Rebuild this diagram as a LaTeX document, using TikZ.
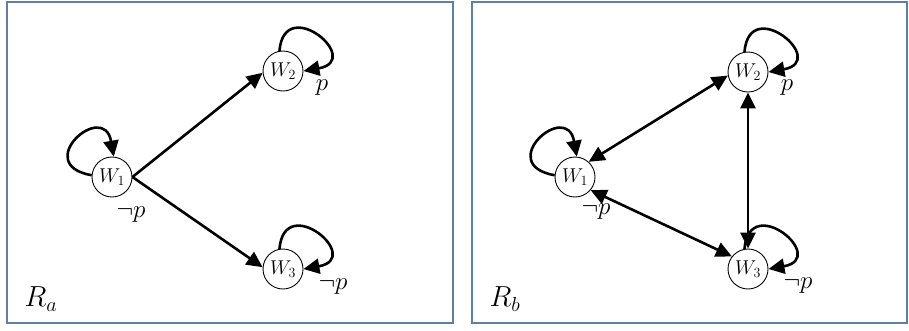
\RequirePackage{fix-cm}
\documentclass[tikz,border=0pt]{standalone}
\usetikzlibrary{arrows.meta}
\definecolor{frame}{RGB}{95,128,160}
\begin{document}
\begin{tikzpicture}[x=1pt,y=-1pt,
  world/.style={circle,draw,line width=0.9pt,minimum size=40pt,inner sep=0pt,font=\fontsize{20}{24}\selectfont},
  conn/.style={line width=2.6pt,-{Triangle[length=16pt,width=15pt]}},
  biconn/.style={line width=2.6pt,{Triangle[length=16pt,width=15pt]}-{Triangle[length=16pt,width=15pt]}},
  lbl/.style={inner sep=0pt,font=\fontsize{25}{28}\selectfont},
  panel/.style={draw=frame,line width=1.2pt}]
\useasboundingbox (0,0) rectangle (909,330);
% panels
\draw[panel] (7,2) rectangle (453,323);
\draw[panel] (472,2) rectangle (907,323);
% left panel
\node[world] (a1) at (112,177) {$W_1$};
\node[world] (a2) at (283,71) {$W_2$};
\node[world] (a3) at (283,269) {$W_3$};
\draw[conn] (a1.east) -- (a2.185);
\draw[conn] (a1.east) -- (a3.175);
\draw[conn] (a1.175) .. controls +(-170:62) and +(-100:58) .. (a1.85);
\draw[conn] (a2.100) .. controls +(-85:58) and +(-10:62) .. (a2.0);
\draw[conn] (a3.100) .. controls +(-85:58) and +(-10:62) .. (a3.0);
\node[lbl] (la1) at (131,215) {$\neg p$};
\node[lbl] (la2) at (322,88) {$p$};
\node[lbl] (la3) at (333,287) {$\neg p$};
\node[inner sep=0pt,font=\fontsize{29}{32}\selectfont] (ra) at (41,299) {$R_a$};
% right panel
\node[world] (b1) at (575,177) {$W_1$};
\node[world] (b2) at (748,72) {$W_2$};
\node[world] (b3) at (748,269) {$W_3$};
\draw[biconn] (b1.48) -- (b2.190);
\draw[biconn] (b1.-40) -- (b3.142);
\draw[biconn] (b2.south) -- (b3.north);
\draw[conn] (b1.175) .. controls +(-170:62) and +(-100:58) .. (b1.85);
\draw[conn] (b2.100) .. controls +(-85:58) and +(-10:62) .. (b2.0);
\draw[conn] (b3.100) .. controls +(-85:58) and +(-10:62) .. (b3.0);
\node[lbl] (lb1) at (596,212) {$\neg p$};
\node[lbl] (lb2) at (787,88) {$p$};
\node[lbl] (lb3) at (798,286) {$\neg p$};
\node[inner sep=0pt,font=\fontsize{29}{32}\selectfont] (rb) at (505,299) {$R_b$};
\end{tikzpicture}
\end{document}
